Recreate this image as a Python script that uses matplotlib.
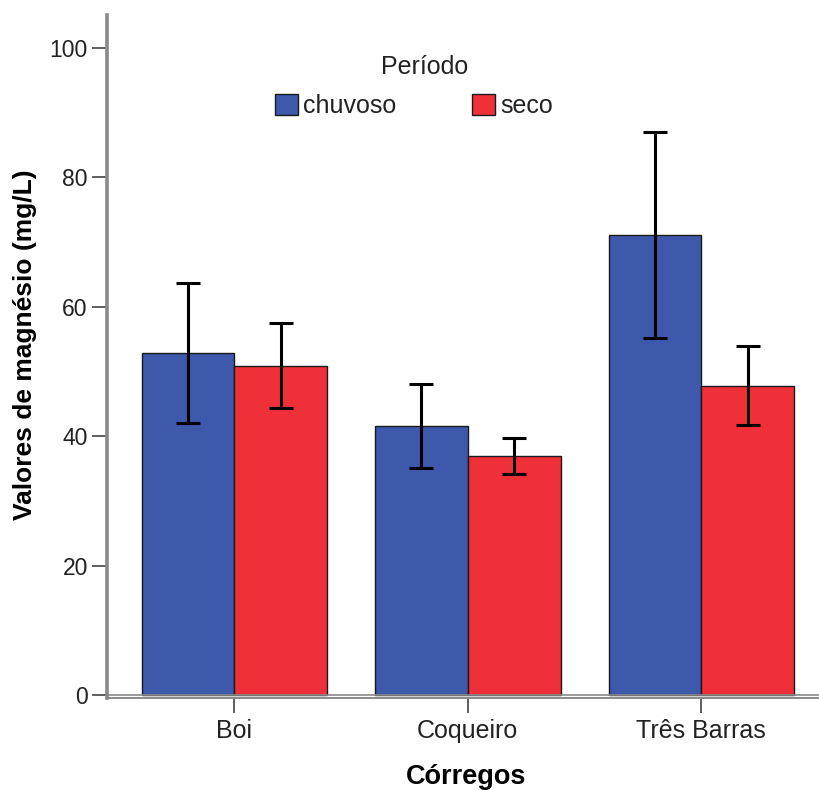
import matplotlib
matplotlib.use("Agg")
import matplotlib.pyplot as plt
from matplotlib.patches import Patch
import numpy as np

plt.rcParams['font.family'] = ['Liberation Sans', 'DejaVu Sans']

categories = ["Boi", "Coqueiro", "Três Barras"]
periods = ["chuvoso", "seco"]
means_chuvoso = [52.9, 41.6, 71.1]
means_seco = [50.9, 36.9, 47.8]
err_chuvoso = [10.8, 6.5, 15.9]
err_seco = [6.6, 2.75, 6.1]
yticks = [0, 20, 40, 60, 80, 100]

blue = "#3E58AC"
red = "#F03039"

W, H = 819, 790
fig = plt.figure(figsize=(W / 100, H / 100), dpi=100)
left_px, right_px, bottom_px, top_px = 107, 828.6, 698, 15
ax = fig.add_axes([left_px / W, 1 - bottom_px / H,
                   (right_px - left_px) / W, (bottom_px - top_px) / H])

x = np.arange(len(categories))
bw = 0.397
err_kw = dict(ecolor="black", elinewidth=2.2, capsize=8.5, capthick=2.2)
ax.bar(x - bw / 2, means_chuvoso, bw, color=blue, edgecolor="#1a1a1a",
       linewidth=1.0, yerr=err_chuvoso, error_kw=err_kw, zorder=2)
ax.bar(x + bw / 2, means_seco, bw, color=red, edgecolor="#1a1a1a",
       linewidth=1.0, yerr=err_seco, error_kw=err_kw, zorder=2)

ax.set_xlim(-0.545, 2.545)
ax.set_ylim(-0.46, 105.1)

# baseline at zero plus the axis frame line just below it
ax.axhline(0, color="#8a8a8a", linewidth=1.2, zorder=3)
for s in ["top", "right"]:
    ax.spines[s].set_visible(False)
ax.spines["left"].set_color("#8a8a8a")
ax.spines["left"].set_linewidth(2.6)
ax.spines["bottom"].set_color("#8a8a8a")
ax.spines["bottom"].set_linewidth(1.4)

ax.set_yticks(yticks)
ax.set_xticks(x)
ax.set_xticklabels(categories)
ax.tick_params(axis="both", direction="out", length=10.8, width=1.1,
               color="#333333", labelcolor="#222222")
ax.tick_params(axis="y", labelsize=16.5, pad=3)
ax.tick_params(axis="x", labelsize=18, pad=4)

ax.set_ylabel("Valores de magnésio (mg/L)", fontsize=19, fontweight="bold")
ax.yaxis.set_label_coords(-0.097, 0.517)
ax.set_xlabel("Córregos", fontsize=19.5, fontweight="bold")
ax.xaxis.set_label_coords(0.4975, -0.096)

# legend entries, with the group title placed separately above them
handles = [Patch(facecolor=blue, edgecolor="#1a1a1a", linewidth=1.0),
           Patch(facecolor=red, edgecolor="#1a1a1a", linewidth=1.0)]
leg = fig.legend(handles, periods, ncol=2, frameon=False,
                 loc="center", bbox_to_anchor=(414 / W, 1 - 106 / H),
                 fontsize=18, handlelength=0.92,
                 handleheight=0.92, handletextpad=0.24, columnspacing=3.0,
                 borderaxespad=0, borderpad=0)
for t in leg.get_texts():
    t.set_color("#222222")
fig.text(425 / W, 1 - 67 / H, "Período", fontsize=18, color="#222222",
         ha="center", va="center")

fig.savefig("out.png", dpi=100)
